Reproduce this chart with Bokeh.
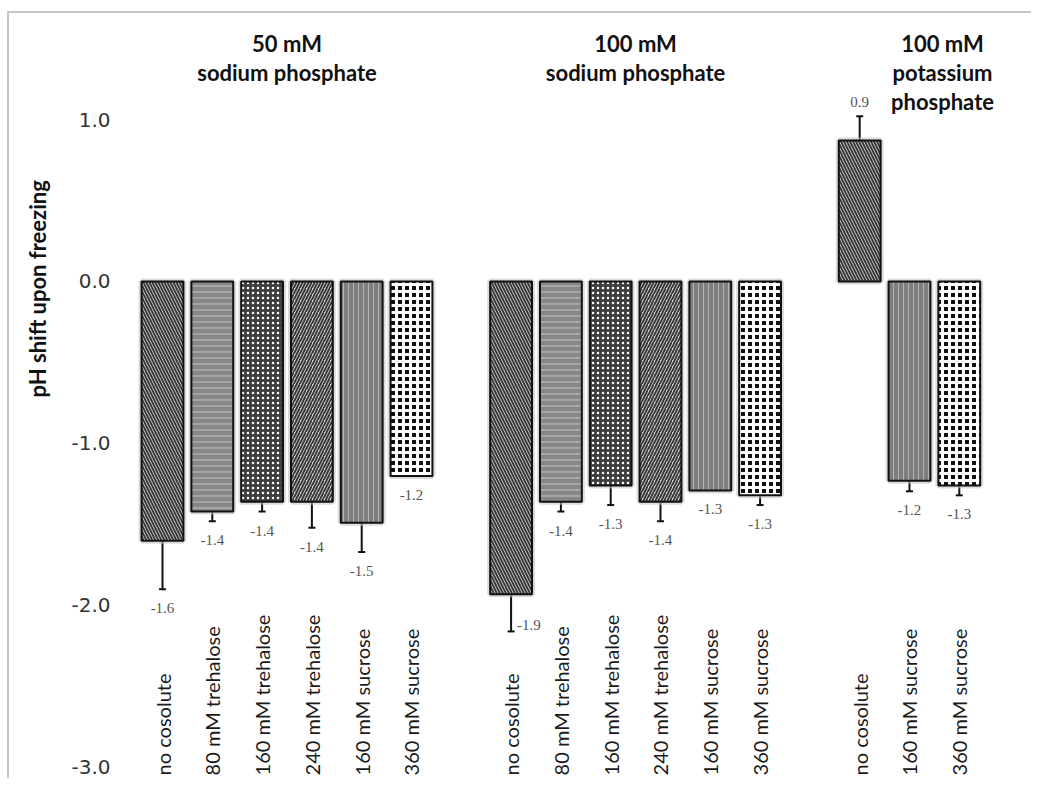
import math
from bokeh.plotting import figure
from bokeh.models import (ColumnDataSource, Range1d, FixedTicker, Whisker, TeeHead,
                          PrintfTickFormatter, Title)
from bokeh.core.properties import value
from bokeh.embed import file_html
from bokeh.resources import INLINE

# ---------------- data ----------------
group_titles = [["50 mM", "sodium phosphate"],
                ["100 mM", "sodium phosphate"],
                ["100 mM", "potassium", "phosphate"]]

g1_labels = ["no cosolute", "80 mM trehalose", "160 mM trehalose",
             "240 mM trehalose", "160 mM sucrose", "360 mM sucrose"]
g1_values = [-1.60, -1.42, -1.36, -1.36, -1.49, -1.20]
g1_errors = [0.30, 0.06, 0.06, 0.16, 0.18, 0.0]

g2_labels = ["no cosolute", "80 mM trehalose", "160 mM trehalose",
             "240 mM trehalose", "160 mM sucrose", "360 mM sucrose"]
g2_values = [-1.93, -1.36, -1.26, -1.36, -1.29, -1.32]
g2_errors = [0.23, 0.06, 0.12, 0.12, 0.0, 0.06]

g3_labels = ["no cosolute", "160 mM sucrose", "360 mM sucrose"]
g3_values = [0.87, -1.23, -1.26]
g3_errors = [0.15, 0.065, 0.06]

y_ticks = [1.0, 0.0, -1.0, -2.0, -3.0]
y_title = "pH shift upon freezing"

# ---------------- styles ----------------
# cosolute -> (fill, hatch pattern, hatch colour, hatch scale, hatch weight)
patterns = {
    "no cosolute":      ("#e2e2e2", "left_diagonal_line", "#3a3a3a", 6, 2),
    "80 mM trehalose":  ("#878787", "horizontal_line", "#c4c4c4", 6, 1),
    "160 mM trehalose": ("#3e3e3e", "dot", "#ffffff", 5, 1),
    "240 mM trehalose": ("#e2e2e2", "right_diagonal_line", "#3a3a3a", 6, 2),
    "160 mM sucrose":   ("#7e7e7e", "vertical_line", "#b4b4b4", 5, 1),
    "360 mM sucrose":   ("#111111", "cross", "#ffffff", 7, 3),
}
beside_labels = {(1, 0)}      # (group, bar) whose value label sits to the right
title_dx = [0, 0, 33]         # px nudge of group titles
BAR_W = 0.84
CAT_LABEL_Y = -3.049
TITLE_Y = 1.469

groups = [(g1_labels, g1_values, g1_errors),
          (g2_labels, g2_values, g2_errors),
          (g3_labels, g3_values, g3_errors)]

xs, tops, errs, cats, fills, hp, hc, hs, hw, txt = [], [], [], [], [], [], [], [], [], []
keys = []
centers = []
pos = 0
for gi, (labs, vals, es) in enumerate(groups):
    start = pos
    for bi, (lab, v, e) in enumerate(zip(labs, vals, es)):
        xs.append(pos); tops.append(v); errs.append(e); cats.append(lab)
        f, pat, col, sc, wt = patterns[lab]
        fills.append(f); hp.append(pat); hc.append(col); hs.append(sc); hw.append(wt)
        txt.append(f"{v:.1f}")
        keys.append((gi, bi))
        pos += 1
    centers.append((start + pos - 1) / 2)
    pos += 1

bars = ColumnDataSource(dict(x=xs, top=tops, fill=fills, hp=hp, hc=hc, hs=hs, hw=hw))

p = figure(width=1031, height=778, output_backend="svg", toolbar_location=None,
           x_range=Range1d(-0.743, 17.45), y_range=Range1d(-3.068, 1.7346),
           min_border_left=125, min_border_right=0, min_border_top=0, min_border_bottom=0)
p.background_fill_color = None
p.border_fill_color = None
p.outline_line_color = None
p.grid.visible = False
p.styles = {
    "background": "linear-gradient(#c6c6c6,#c6c6c6) 7px 11px / 100% 2px no-repeat,"
                  "linear-gradient(#c6c6c6,#c6c6c6) 7px 11px / 2px 100% no-repeat, #ffffff"
}

# soft shadow around bars
p.vbar(x="x", top="top", bottom=0, width=BAR_W, source=bars, fill_alpha=0,
       line_color="#c4c4c4", line_width=6, line_alpha=0.6)
p.vbar(x="x", top="top", bottom=0, width=BAR_W, source=bars,
       fill_color="fill", hatch_pattern="hp", hatch_color="hc",
       hatch_scale="hs", hatch_weight="hw",
       line_color="#111111", line_width=2)

# error bars
ex = [x for x, e in zip(xs, errs) if e > 0]
ev = [v for v, e in zip(tops, errs) if e > 0]
ee = [e for e in errs if e > 0]
err_src = ColumnDataSource(dict(x=ex, upper=[v + e for v, e in zip(ev, ee)],
                                lower=[v - e for v, e in zip(ev, ee)]))
p.add_layout(Whisker(source=err_src, base="x", upper="upper", lower="lower",
                     dimension="height", line_width=2, line_color="#111111",
                     upper_head=TeeHead(size=7, line_width=2, line_color="#111111"),
                     lower_head=TeeHead(size=7, line_width=2, line_color="#111111")))

# value labels
lx, ly, lt, loff = [], [], [], []
bx, by, bt = [], [], []
for x, v, e, t, k in zip(xs, tops, errs, txt, keys):
    if k in beside_labels:
        bx.append(x); by.append(v - e); bt.append(t)
    elif v >= 0:
        lx.append(x); ly.append(v + e); lt.append(t); loff.append(-14)
    else:
        lx.append(x); ly.append(v - e); lt.append(t); loff.append(19)
p.text(x=lx, y=ly, text=lt, y_offset=loff, text_align="center", text_baseline="middle",
       text_font=value("Liberation Serif"), text_font_size="15px", text_color="#555555")
p.text(x=bx, y=by, text=bt, x_offset=6, y_offset=-6, text_align="left",
       text_baseline="middle", text_font=value("Liberation Serif"),
       text_font_size="15px", text_color="#555555")

# category labels (rotated, start-aligned at bottom)
p.text(x=xs, y=[CAT_LABEL_Y] * len(xs), text=cats, angle=math.pi / 2,
       text_align="left", text_baseline="middle",
       text_font=value("Lato"), text_font_size="20px", text_color="#1a1a1a")

# group titles
tx, ty, tt, tdx, tdy = [], [], [], [], []
for gi, lines in enumerate(group_titles):
    for li, line in enumerate(lines):
        tx.append(centers[gi]); ty.append(TITLE_Y); tt.append(line)
        tdx.append(title_dx[gi]); tdy.append(li * 29)
p.text(x=tx, y=ty, text=tt, x_offset=tdx, y_offset=tdy, text_align="center",
       text_baseline="middle", text_font=value("Lato"), text_font_style="bold",
       text_font_size="22px", text_color="#111111")

# axes
p.xaxis.visible = False
yax = p.yaxis[0]
yax.ticker = FixedTicker(ticks=y_ticks)
yax.formatter = PrintfTickFormatter(format="%.1f")
yax.axis_line_color = None
yax.major_tick_line_color = None
yax.minor_tick_line_color = None
yax.major_tick_out = 0
yax.major_tick_in = 0
yax.minor_tick_out = 0
yax.major_label_standoff = 15
yax.major_label_text_font = "DejaVu Sans"
yax.major_label_text_font_size = "20px"
yax.major_label_text_color = "#333333"

# y-axis title, placed around the zero line rather than centred on the frame
p.add_layout(Title(text=y_title, align="left", offset=381, standoff=36,
                   text_font="Lato", text_font_style="bold", text_font_size="22px",
                   text_color="#111111"), "left")

open("out.html", "w").write(file_html(p, INLINE))
